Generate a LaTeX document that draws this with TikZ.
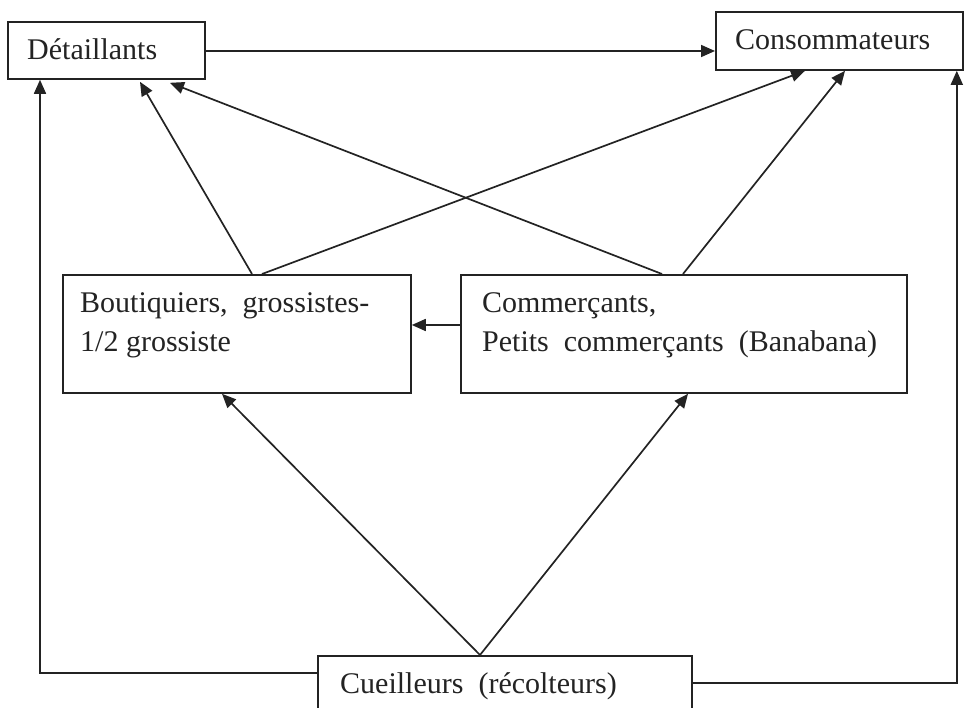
\documentclass[tikz,border=0pt]{standalone}
\usepackage{fontspec}
\setmainfont{Liberation Serif}[WordSpace=2]
\usetikzlibrary{arrows.meta,calc}
\definecolor{ink}{RGB}{35,35,35}
\begin{document}
\begin{tikzpicture}[x=1pt,y=-1pt,
  box/.style={draw=ink, line width=1.8pt, anchor=north west, inner sep=0pt, fill=white},
  txt/.style={anchor=base west, inner sep=0pt, text=ink, font=\fontsize{30pt}{39pt}\selectfont},
  arr/.style={draw=ink, line width=1.7pt, -{Triangle[length=14pt,width=12pt]}}]
\useasboundingbox (0,0) rectangle (969,708);
% boxes
\node[box, minimum width=197pt, minimum height=57pt] (det) at (7,21) {};
\node[box, minimum width=247pt, minimum height=58pt] (cons) at (715,11) {};
\node[box, minimum width=348pt, minimum height=118pt] (bout) at (62,274) {};
\node[box, minimum width=446pt, minimum height=118pt] (comm) at (460,274) {};
\node[box, minimum width=374pt, minimum height=70pt] (cue) at (317,655) {};
% texts
\node[txt] (tdet) at (27,60) {Détaillants};
\node[txt] (tcons) at (735,50) {Consommateurs};
\node[txt] (tb1) at (80,313) {Boutiquiers, grossistes-};
\node[txt] (tb2) at (80,352) {\spaceskip=0.25em\relax 1/2 grossiste};
\node[txt] (tc1) at (482,313) {Commerçants,};
\node[txt] (tc2) at (482,352) {Petits commerçants (Banabana)};
\node[txt] (tcu) at (340,693) {Cueilleurs (récolteurs)};
% connectors
\draw[arr] ($(det.north east)+(0,30)$) -- ($(cons.north west)+(0,40)$);
\draw[arr] ($(cue.north west)+(0,18)$) -| ($(det.south west)+(33,0)$);
\draw[arr] ($(cue.north east)+(0,28)$) -| ($(cons.south east)+(-7,0)$);
\draw[arr] ($(bout.north west)+(190,0)$) -- ($(det.south west)+(133,2)$);
\draw[arr] ($(bout.north west)+(200,0)$) -- ($(cons.south west)+(90,0)$);
\draw[arr] ($(comm.north west)+(202,0)$) -- ($(det.south west)+(163,3)$);
\draw[arr] ($(comm.north west)+(223,0)$) -- ($(cons.south west)+(130,0)$);
\draw[arr] ($(cue.north west)+(163,0)$) -- ($(bout.south west)+(160,0)$);
\draw[arr] ($(cue.north west)+(163,0)$) -- ($(comm.south west)+(228,0)$);
\draw[arr] ($(comm.north west)+(0,51)$) -- ($(bout.north east)+(0,51)$);
\end{tikzpicture}
\end{document}
